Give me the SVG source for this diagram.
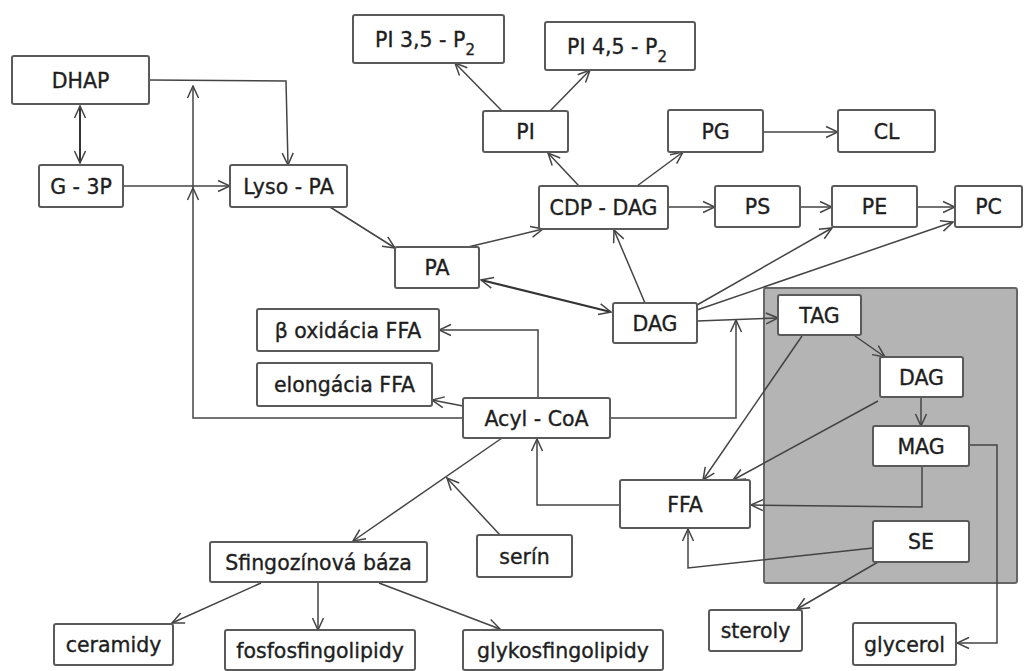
<svg xmlns="http://www.w3.org/2000/svg" width="1027" height="671" viewBox="0 0 1027 671">
<style>
.n rect{fill:#fff;stroke:#5a5a5a;stroke-width:2}
.n text{font-family:"DejaVu Sans",sans-serif;font-size:20.5px;fill:#1e1e1e;stroke:#1e1e1e;stroke-width:0.35;text-anchor:middle}
.c path{fill:none;stroke:#444;stroke-width:1.5}
.c .a{marker-end:url(#ah)}
.c .d{marker-end:url(#ah);marker-start:url(#ah);stroke:#333;stroke-width:2}
</style>
<defs>
<marker id="ah" viewBox="0 0 14 14" refX="13" refY="7" markerWidth="14" markerHeight="14" markerUnits="userSpaceOnUse" orient="auto-start-reverse">
<path d="M1,1.5 L13,7 L1,12.5" fill="none" stroke="#444" stroke-width="1.5"/>
</marker>
</defs>
<rect width="1027" height="671" fill="#fff"/>
<g id="lipid-droplet"><rect x="764" y="288" width="253" height="295" fill="#b4b4b4" stroke="#666" stroke-width="2" rx="2"/></g>
<g class="c" id="connectors">
<path class="d" d="M80,106 L80,163"/>
<path class="a" d="M149,80 L286,81 L288,165"/>
<path class="a" d="M123,186 L230,186"/>
<path class="a" d="M463,418 L193,418 L193,188"/>
<path class="a" d="M193,188 L193,86"/>
<path class="a" d="M330,207 L395,248"/>
<path class="a" d="M468,247 L543,229"/>
<path class="d" d="M481,280 L611,312"/>
<path class="a" d="M645,303 L614,230"/>
<path class="a" d="M579,186 L548,153"/>
<path class="a" d="M637,186 L683,152"/>
<path class="a" d="M502,111 L455,63"/>
<path class="a" d="M550,111 L590,70"/>
<path class="a" d="M763,132 L838,132"/>
<path class="a" d="M668,207 L715,207"/>
<path class="a" d="M800,207 L832,207"/>
<path class="a" d="M917,207 L955,207"/>
<path class="a" d="M697,305 L832,228"/>
<path class="a" d="M697,310 L953,222"/>
<path class="a" d="M697,321 L778,318"/>
<path class="a" d="M610,418 L736,418 L736,320"/>
<path class="a" d="M538,398 L538,330 L439,330"/>
<path class="a" d="M463,406 L432,400"/>
<path class="a" d="M502,438 L353,541"/>
<path class="a" d="M500,535 L447,478"/>
<path class="a" d="M620,505 L537,505 L537,439"/>
<path class="a" d="M855,336 L885,357"/>
<path class="a" d="M802,336 L703,480"/>
<path class="a" d="M878,401 L733,480"/>
<path class="a" d="M921,397 L921,426"/>
<path class="a" d="M922,466 L922,507 L751,505"/>
<path class="a" d="M873,548 L688,568 L688,529"/>
<path class="a" d="M969,445 L997,445 L997,643 L957,643"/>
<path class="a" d="M878,562 L797,609"/>
<path class="a" d="M261,583 L172,623"/>
<path class="a" d="M318,582 L318,630"/>
<path class="a" d="M379,583 L500,629"/>
</g>
<g class="n" id="DHAP"><rect x="12" y="56" width="137" height="48" rx="2"/><text x="80.5" y="87.5">DHAP</text></g>
<g class="n" id="G3P"><rect x="39" y="165" width="84" height="42" rx="2"/><text x="81" y="193.5">G - 3P</text></g>
<g class="n" id="LysoPA"><rect x="230" y="165" width="117" height="42" rx="2"/><text x="288.5" y="193.5">Lyso - PA</text></g>
<g class="n" id="PI35"><rect x="353" y="15" width="151" height="48" rx="2"/><text x="425" y="46.5">PI 3,5 - P<tspan font-size="15" dy="8">2</tspan></text></g>
<g class="n" id="PI45"><rect x="545" y="22" width="150" height="48" rx="2"/><text x="617" y="53.5">PI 4,5 - P<tspan font-size="15" dy="8">2</tspan></text></g>
<g class="n" id="PI"><rect x="483" y="111" width="85" height="41" rx="2"/><text x="525.5" y="139">PI</text></g>
<g class="n" id="PG"><rect x="668" y="110" width="95" height="42" rx="2"/><text x="715.5" y="138.5">PG</text></g>
<g class="n" id="CL"><rect x="838" y="110" width="97" height="42" rx="2"/><text x="886.5" y="138.5">CL</text></g>
<g class="n" id="CDPDAG"><rect x="539" y="186" width="129" height="43" rx="2"/><text x="603.5" y="215">CDP - DAG</text></g>
<g class="n" id="PS"><rect x="715" y="186" width="85" height="41" rx="2"/><text x="757.5" y="214">PS</text></g>
<g class="n" id="PE"><rect x="832" y="186" width="85" height="41" rx="2"/><text x="874.5" y="214">PE</text></g>
<g class="n" id="PC"><rect x="955" y="186" width="67" height="41" rx="2"/><text x="988.5" y="214">PC</text></g>
<g class="n" id="PA"><rect x="395" y="247" width="84" height="41" rx="2"/><text x="437" y="275">PA</text></g>
<g class="n" id="DAG"><rect x="613" y="303" width="84" height="40" rx="2"/><text x="655" y="330.5">DAG</text></g>
<g class="n" id="TAG"><rect x="778" y="295" width="83" height="40" rx="2"/><text x="819.5" y="322.5">TAG</text></g>
<g class="n" id="DAG2"><rect x="880" y="357" width="83" height="40" rx="2"/><text x="921.5" y="384.5">DAG</text></g>
<g class="n" id="MAG"><rect x="873" y="426" width="96" height="40" rx="2"/><text x="921" y="453.5">MAG</text></g>
<g class="n" id="FFA"><rect x="620" y="480" width="130" height="48" rx="2"/><text x="685" y="511.5">FFA</text></g>
<g class="n" id="SE"><rect x="873" y="521" width="96" height="41" rx="2"/><text x="921" y="549">SE</text></g>
<g class="n" id="boxidacia"><rect x="257" y="309" width="182" height="42" rx="2"/><text x="348" y="337.5">β oxidácia FFA</text></g>
<g class="n" id="elongacia"><rect x="257" y="363" width="175" height="43" rx="2"/><text x="344.5" y="392">elongácia FFA</text></g>
<g class="n" id="AcylCoA"><rect x="463" y="398" width="147" height="40" rx="2"/><text x="536.5" y="425.5">Acyl - CoA</text></g>
<g class="n" id="Sfingozin"><rect x="210" y="542" width="217" height="40" rx="2"/><text x="318.5" y="569.5">Sfingozínová báza</text></g>
<g class="n" id="serin"><rect x="477" y="535" width="95" height="42" rx="2"/><text x="524.5" y="563.5">serín</text></g>
<g class="n" id="ceramidy"><rect x="54" y="624" width="119" height="41" rx="2"/><text x="113.5" y="652">ceramidy</text></g>
<g class="n" id="fosfo"><rect x="225" y="630" width="190" height="40" rx="2"/><text x="320" y="657.5">fosfosfingolipidy</text></g>
<g class="n" id="glyko"><rect x="463" y="630" width="200" height="40" rx="2"/><text x="563" y="657.5">glykosfingolipidy</text></g>
<g class="n" id="steroly"><rect x="709" y="610" width="93" height="41" rx="2"/><text x="755.5" y="638">steroly</text></g>
<g class="n" id="glycerol"><rect x="853" y="623" width="103" height="42" rx="2"/><text x="904.5" y="651.5">glycerol</text></g>
</svg>
